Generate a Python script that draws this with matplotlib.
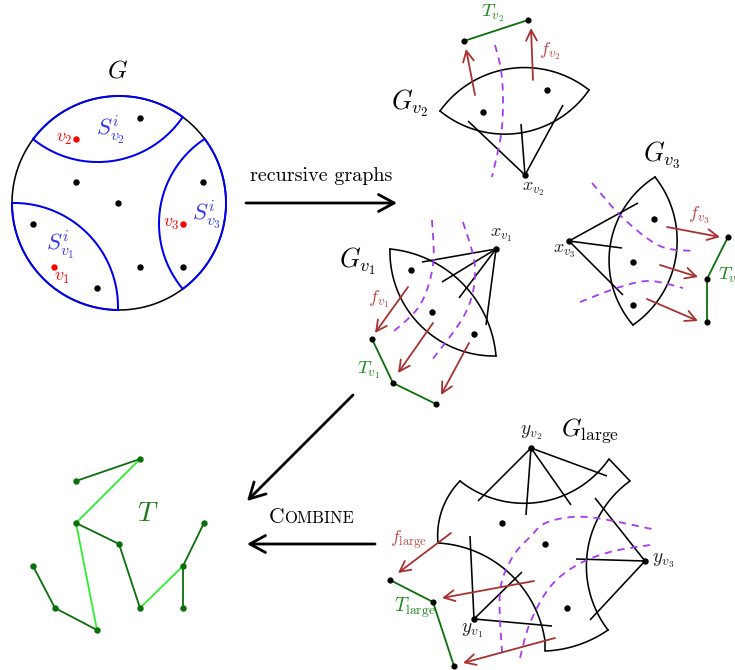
import numpy as np
import matplotlib
matplotlib.use('Agg')
import matplotlib.pyplot as plt
from matplotlib.patches import FancyArrowPatch

plt.rcParams['mathtext.fontset'] = 'cm'

# ---------------- data (pixel coordinates of the diagram) ----------------
G_center = (119, 203)
G_radius = 107
S_outer_arcs_deg = [(-143.3, -53.5), (-36.9, 53.5), (90.5, 180.0)]
S_inner_arcs = [((33, 139), (100, 162), (182, 118)),
                ((203, 140), (159, 223), (182, 288)),
                ((12, 203), (88, 234), (118, 309))]
G_black_dots = [(140, 118), (76, 182), (118, 203), (203, 182), (33, 224),
                (140, 267), (183, 267), (97, 288)]
G_red_dots = [(76, 139), (183, 224), (54, 267)]

# G_v2
Gv2_lens = [((440, 111), (515, 68), (589, 90)), ((440, 111), (510, 134), (589, 90))]
Gv2_dots = [(483, 112), (547, 90)]
xv2 = (525, 175)
xv2_ends = [(468, 121), (521, 124), (563, 105)]
Gv2_dash = [[(495, 45), (501, 70), (503, 100), (501, 135), (492, 177)]]
Gv2_arrows = [((475, 95), (466, 49)), ((533, 80), (531, 28))]
Tv2 = [(464, 41), (528, 20)]

# G_v3
Gv3_lens = [((655, 177), (676, 256), (633, 325)), ((655, 177), (610, 247), (633, 325))]
Gv3_dots = [(654, 219), (633, 262), (633, 305)]
xv3 = (569, 241)
xv3_ends = [(638, 203), (622, 248), (623, 295)]
Gv3_dash = [[(592, 183), (623, 218), (660, 246), (695, 251)],
            [(580, 302), (620, 287), (650, 281), (683, 288)]]
Gv3_arrows = [((667, 227), (720, 237)), ((660, 265), (698, 277)), ((647, 299), (698, 321))]
Tv3 = [(728, 237), (707, 279), (707, 322)]

# G_v1
Gv1_lens = [((390, 249), (462, 283), (496, 356)), ((390, 249), (420, 325), (496, 356))]
Gv1_dots = [(411, 270), (432, 312), (474, 334)]
xv1 = (496, 249)
xv1_ends = [(422, 262), (442, 282), (459, 298), (486, 325)]
Gv1_dash = [[(432, 220), (433, 265), (420, 305), (393, 332)],
            [(463, 222), (475, 268), (466, 312), (432, 360)]]
Gv1_arrows = [((408, 287), (375, 333)), ((433, 323), (398, 373)), ((469, 343), (441, 395))]
Tv1 = [(372, 339), (393, 383), (436, 404)]

# G_large
GL_arcs = [((460, 481), (532, 503), (609, 459)),
           ((630, 481), (587, 555), (608, 630)),
           ((608, 630), (578, 645), (545, 651)),
           ((545, 641), (508, 572), (438, 543)),
           ((438, 543), (442, 510), (460, 481))]
GL_segments = [((609, 459), (630, 481)), ((545, 651), (545, 641))]
GL_dots = [(502, 523), (545, 544), (567, 608)]
yv2 = (531, 448)
yv2_ends = [(478, 501), (526, 515), (571, 505), (607, 476)]
yv3 = (645, 561)
yv3_ends = [(595, 498), (576, 559), (590, 620)]
yv1 = (474, 619)
yv1_ends = [(470, 536), (522, 572), (552, 626)]
GL_dash = [[(502, 653), (500, 592), (512, 558), (530, 537), (548, 522), (587, 517), (652, 529)],
           [(520, 658), (530, 623), (550, 587), (577, 565), (610, 552), (650, 545)]]
GL_arrows = [((451, 533), (398, 573)), ((534, 581), (442, 598)), ((555, 638), (463, 663))]
TL = [(390, 580), (433, 602), (454, 666)]

# Combined tree T
T_nodes = {'a': (76, 481), 'b': (140, 459), 'c': (76, 523), 'd': (119, 544),
           'e': (33, 566), 'f': (55, 608), 'g': (97, 630), 'h': (140, 608),
           'i': (183, 566), 'j': (204, 523), 'k': (183, 608)}
T_dark_edges = [('a', 'b'), ('c', 'd'), ('d', 'h'), ('e', 'f'), ('f', 'g'), ('i', 'j'), ('i', 'k')]
T_light_edges = [('b', 'c'), ('c', 'g'), ('h', 'i')]

# ---------------- styles ----------------
BLUE = '#0000f0'
RED = '#ff0000'
PURPLE = '#a43cf5'
ARROW_RED = '#a83232'
LABEL_RED = '#c04848'
DKGREEN = '#0b6e0b'
LTGREEN = '#2cf02c'
LW = 1.15


def arc3(p0, pm, p1, n=80):
    (x1, y1), (x2, y2), (x3, y3) = p0, pm, p1
    d = 2 * (x1 * (y2 - y3) + x2 * (y3 - y1) + x3 * (y1 - y2))
    ux = ((x1**2 + y1**2) * (y2 - y3) + (x2**2 + y2**2) * (y3 - y1) + (x3**2 + y3**2) * (y1 - y2)) / d
    uy = ((x1**2 + y1**2) * (x3 - x2) + (x2**2 + y2**2) * (x1 - x3) + (x3**2 + y3**2) * (x2 - x1)) / d
    r = np.hypot(x1 - ux, y1 - uy)
    a0 = np.arctan2(y1 - uy, x1 - ux)
    am = np.arctan2(y2 - uy, x2 - ux)
    a1 = np.arctan2(y3 - uy, x3 - ux)
    tw = 2 * np.pi
    dm = (am - a0) % tw
    d1 = (a1 - a0) % tw
    if dm <= d1:
        t = np.linspace(a0, a0 + d1, n)
    else:
        t = np.linspace(a0, a0 - (tw - d1), n)
    return ux + r * np.cos(t), uy + r * np.sin(t)


def smooth(pts, n=20):
    P = [pts[0]] + list(pts) + [pts[-1]]
    P = np.array(P, dtype=float)
    xs, ys = [], []
    for i in range(1, len(P) - 2):
        p0, p1, p2, p3 = P[i - 1], P[i], P[i + 1], P[i + 2]
        for t in np.linspace(0, 1, n, endpoint=False):
            q = 0.5 * ((2 * p1) + (-p0 + p2) * t + (2 * p0 - 5 * p1 + 4 * p2 - p3) * t**2
                       + (-p0 + 3 * p1 - 3 * p2 + p3) * t**3)
            xs.append(q[0]); ys.append(q[1])
    xs.append(P[-2][0]); ys.append(P[-2][1])
    return xs, ys


fig = plt.figure(figsize=(7.35, 6.7), dpi=100)
ax = fig.add_axes([0, 0, 1, 1])
ax.set_xlim(0, 735)
ax.set_ylim(670, 0)
ax.axis('off')


def line(p, q, c='black', lw=LW, z=2):
    ax.plot([p[0], q[0]], [p[1], q[1]], color=c, lw=lw, zorder=z, solid_capstyle='butt')


def dots(pts, c='black', s=3.6, z=5):
    ax.plot([p[0] for p in pts], [p[1] for p in pts], 'o', color=c, ms=s, mec=c, zorder=z, lw=0)


def dashed(curves):
    for pts in curves:
        xs, ys = smooth(pts)
        ax.plot(xs, ys, color=PURPLE, lw=1.3, ls=(0, (4, 3.2)), zorder=3)


def arrow(p, q, c=ARROW_RED, lw=1.3, ms=14, hl=0.55, hw=0.28, z=4):
    a = FancyArrowPatch(p, q, arrowstyle=f'->,head_length={hl},head_width={hw}',
                        mutation_scale=ms, color=c, lw=lw, zorder=z, shrinkA=0, shrinkB=0)
    ax.add_patch(a)


def polyline(pts, c, lw=1.3):
    ax.plot([p[0] for p in pts], [p[1] for p in pts], color=c, lw=lw, zorder=4)
    dots(pts, c='black', s=3.4)


def txt(x, y, s, size, c='black', **kw):
    ax.text(x, y, s, fontsize=size, color=c, ha=kw.pop('ha', 'center'), va=kw.pop('va', 'center'), **kw)


# ---- G ----
t = np.linspace(0, 2 * np.pi, 400)
ax.plot(G_center[0] + G_radius * np.cos(t), G_center[1] + G_radius * np.sin(t), color='black', lw=LW, zorder=2)
for a0, a1 in S_outer_arcs_deg:
    tt = np.radians(np.linspace(a0, a1, 120))
    ax.plot(G_center[0] + G_radius * np.cos(tt), G_center[1] + G_radius * np.sin(tt), color=BLUE, lw=1.45, zorder=3)
for p0, pm, p1 in S_inner_arcs:
    xs, ys = arc3(p0, pm, p1)
    ax.plot(xs, ys, color=BLUE, lw=1.45, zorder=3)
dots(G_black_dots)
dots(G_red_dots, c=RED)
txt(118, 70, '$G$', 18)
txt(110, 130, '$S^i_{v_2}$', 16.5, c='#3535f5')
txt(206, 215, '$S^i_{v_3}$', 16.5, c='#3535f5')
txt(60, 245, '$S^i_{v_1}$', 16.5, c='#3535f5')
txt(64, 138, '$v_2$', 13, c=RED)
txt(171, 223, '$v_3$', 13, c=RED)
txt(62, 277, '$v_1$', 13, c=RED)

# ---- big arrows ----
arrow((246, 203), (397, 203), c='black', lw=2.0, ms=16, hl=0.7, hw=0.38)
txt(321, 176, 'recursive graphs', 14.5, family='cmr10')
arrow((353, 395), (247, 501), c='black', lw=2.0, ms=16, hl=0.7, hw=0.38)
arrow((375, 544), (247, 544), c='black', lw=2.0, ms=16, hl=0.7, hw=0.38)
txt(284, 523, 'C', 15.5, family='cmr10', ha='right', va='baseline')
txt(284, 523, 'OMBINE', 12, family='cmr10', ha='left', va='baseline')

# ---- G_v2 ----
for p0, pm, p1 in Gv2_lens:
    xs, ys = arc3(p0, pm, p1)
    ax.plot(xs, ys, color='black', lw=LW, zorder=2)
for e in xv2_ends:
    line(xv2, e)
dashed(Gv2_dash)
for p, q in Gv2_arrows:
    arrow(p, q)
polyline(Tv2, DKGREEN)
dots(Gv2_dots + [xv2])
txt(410, 103, '$G_{v_2}$', 19)
txt(493, 13, '$T_{v_2}$', 13.5, c='#1a8a1a')
txt(550, 51, '$f_{v_2}$', 13.5, c=LABEL_RED)
txt(533, 189, '$x_{v_2}$', 13, c='#222222')

# ---- G_v3 ----
for p0, pm, p1 in Gv3_lens:
    xs, ys = arc3(p0, pm, p1)
    ax.plot(xs, ys, color='black', lw=LW, zorder=2)
for e in xv3_ends:
    line(xv3, e)
dashed(Gv3_dash)
for p, q in Gv3_arrows:
    arrow(p, q)
polyline(Tv3, DKGREEN)
dots(Gv3_dots + [xv3])
txt(662, 155, '$G_{v_3}$', 19)
txt(564, 251, '$x_{v_3}$', 13, c='#222222')
txt(699, 215, '$f_{v_3}$', 13.5, c=LABEL_RED)
txt(718, 276, '$T_{v_3}$', 13.5, c='#1a8a1a', ha='left')

# ---- G_v1 ----
for p0, pm, p1 in Gv1_lens:
    xs, ys = arc3(p0, pm, p1)
    ax.plot(xs, ys, color='black', lw=LW, zorder=2)
for e in xv1_ends:
    line(xv1, e)
dashed(Gv1_dash)
for p, q in Gv1_arrows:
    arrow(p, q)
polyline(Tv1, DKGREEN)
dots(Gv1_dots + [xv1])
txt(358, 261, '$G_{v_1}$', 19)
txt(501, 235, '$x_{v_1}$', 13, c='#222222')
txt(379, 299, '$f_{v_1}$', 13.5, c=LABEL_RED)
txt(369, 370, '$T_{v_1}$', 13.5, c='#1a8a1a')

# ---- G_large ----
for p0, pm, p1 in GL_arcs:
    xs, ys = arc3(p0, pm, p1)
    ax.plot(xs, ys, color='black', lw=LW, zorder=2)
for p, q in GL_segments:
    line(p, q)
for c0, ends in [(yv2, yv2_ends), (yv3, yv3_ends), (yv1, yv1_ends)]:
    for e in ends:
        line(c0, e)
dashed(GL_dash)
for p, q in GL_arrows:
    arrow(p, q)
polyline(TL, DKGREEN)
dots(GL_dots + [yv1, yv2, yv3])
txt(531, 432, '$y_{v_2}$', 14, c='#222222')
txt(590, 431, r'$G_{\mathrm{large}}$', 18)
txt(652, 561, '$y_{v_3}$', 14, c='#222222', ha='left')
txt(472, 630, '$y_{v_1}$', 14, c='#222222')
txt(409, 540, r'$f_{\mathrm{large}}$', 13, c=LABEL_RED)
txt(415, 608, r'$T_{\mathrm{large}}$', 14, c='#1a8a1a')

# ---- T ----
for u, v in T_dark_edges:
    line(T_nodes[u], T_nodes[v], c=DKGREEN, lw=1.3, z=3)
for u, v in T_light_edges:
    line(T_nodes[u], T_nodes[v], c=LTGREEN, lw=1.3, z=3)
dots(list(T_nodes.values()), c=DKGREEN, s=3.6)
txt(148, 513, '$T$', 20, c='#1a7a1a')

fig.savefig('out.png', dpi=100)
